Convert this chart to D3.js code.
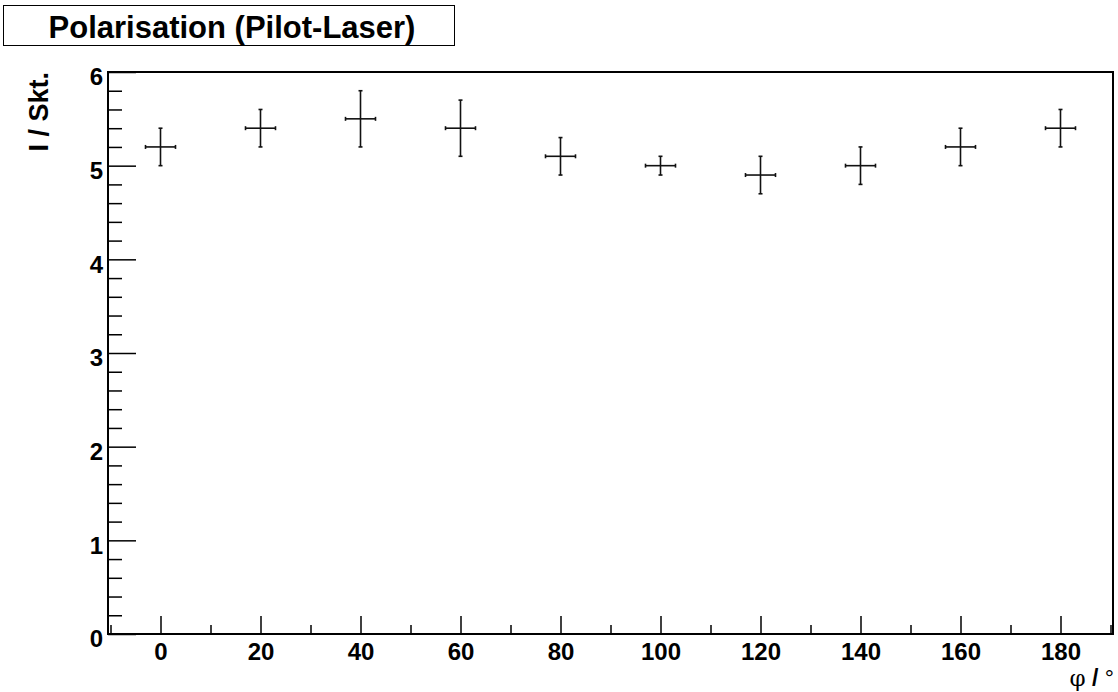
<!DOCTYPE html>
<html>
<head>
<meta charset="utf-8">
<script src="https://cdn.jsdelivr.net/npm/d3@7/dist/d3.min.js"></script>
<style>
  body { margin: 0; background: #fff; }
  text { font-family: "Liberation Sans", Arial, Helvetica, sans-serif; font-weight: bold; fill: #000; }
</style>
</head>
<body>
<svg id="chart" width="1118" height="692"></svg>
<script>
// measured polarisation data
const angles = [0, 20, 40, 60, 80, 100, 120, 140, 160, 180];
const intensity = [5.2, 5.4, 5.5, 5.4, 5.1, 5.0, 4.9, 5.0, 5.2, 5.4];
const intensityErr = [0.2, 0.2, 0.3, 0.3, 0.2, 0.1, 0.2, 0.2, 0.2, 0.2];
const angleErr = [3, 3, 3, 3, 3, 3, 3, 3, 3, 3];
const xTicks = [0, 20, 40, 60, 80, 100, 120, 140, 160, 180];
const yTicks = [0, 1, 2, 3, 4, 5, 6];

const margin = {top: 72, right: 5, bottom: 58, left: 108};
const W = 1118, H = 692;
const width = W - margin.left - margin.right;
const height = H - margin.top - margin.bottom;

const svg = d3.select('#chart');
const chart = svg.append('g')
    .attr('transform', `translate(${margin.left},${margin.top})`);

const x = d3.scaleLinear().domain([-10.5, 190.5]).range([0, width]);
const y = d3.scaleLinear().domain([0, 6]).range([height, 0]);

// minor ticks
const xMinor = d3.range(-10, 191, 10).filter(v => v % 20 !== 0);
const yMinor = d3.range(0, 6.001, 0.2).map(v => +v.toFixed(1)).filter(v => Math.abs(v - Math.round(v)) > 1e-6);

const xAxisMinor = d3.axisBottom(x).tickValues(xMinor).tickSize(-9).tickFormat('');
const xAxis = d3.axisBottom(x).tickValues(xTicks).tickSize(-18).tickPadding(9).tickFormat(d3.format('d'));
const yAxisMinor = d3.axisLeft(y).tickValues(yMinor).tickSize(-14).tickFormat('');
const yAxis = d3.axisLeft(y).tickValues(yTicks).tickSize(-28).tickPadding(5).tickFormat(d3.format('d'));

function styleAxis(g) {
  g.select('.domain').remove();
  g.selectAll('.tick line').attr('stroke', '#000').attr('stroke-width', 1.5);
  g.selectAll('.tick text').style('font-size', '24px').style('font-weight', 'bold')
    .style('font-family', '"Liberation Sans", Arial, sans-serif').attr('fill', '#000');
}

chart.append('g').attr('transform', `translate(0,${height})`).call(xAxisMinor).call(styleAxis);
chart.append('g').attr('transform', `translate(0,${height})`).call(xAxis).call(styleAxis)
    .selectAll('.tick text').attr('dy', '0.71em');
chart.append('g').call(yAxisMinor).call(styleAxis);
chart.append('g').call(yAxis).call(styleAxis)
    .selectAll('.tick text').attr('dy', '0.53em');

// frame
chart.append('rect')
    .attr('x', 0).attr('y', 0)
    .attr('width', width).attr('height', height)
    .attr('fill', 'none').attr('stroke', '#000').attr('stroke-width', 2);

// error crosses
const pts = angles.map((a, i) => ({x: a, y: intensity[i], ex: angleErr[i], ey: intensityErr[i]}));
const cap = 2;
const g = chart.selectAll('.pt').data(pts).enter().append('g').attr('class', 'pt')
    .attr('stroke', '#111').attr('stroke-width', 1.6);
g.append('line')
    .attr('x1', d => x(d.x - d.ex)).attr('x2', d => x(d.x + d.ex))
    .attr('y1', d => y(d.y)).attr('y2', d => y(d.y));
g.append('line')
    .attr('x1', d => x(d.x)).attr('x2', d => x(d.x))
    .attr('y1', d => y(d.y - d.ey)).attr('y2', d => y(d.y + d.ey));
// end caps
g.append('line')
    .attr('x1', d => x(d.x - d.ex)).attr('x2', d => x(d.x - d.ex))
    .attr('y1', d => y(d.y) - cap).attr('y2', d => y(d.y) + cap);
g.append('line')
    .attr('x1', d => x(d.x + d.ex)).attr('x2', d => x(d.x + d.ex))
    .attr('y1', d => y(d.y) - cap).attr('y2', d => y(d.y) + cap);
g.append('line')
    .attr('x1', d => x(d.x) - cap).attr('x2', d => x(d.x) + cap)
    .attr('y1', d => y(d.y + d.ey)).attr('y2', d => y(d.y + d.ey));
g.append('line')
    .attr('x1', d => x(d.x) - cap).attr('x2', d => x(d.x) + cap)
    .attr('y1', d => y(d.y - d.ey)).attr('y2', d => y(d.y - d.ey));

// axis titles
svg.append('text')
    .attr('transform', `translate(48,${margin.top}) rotate(-90)`)
    .attr('text-anchor', 'end')
    .style('font-size', '27px')
    .text('I / Skt.');

const xt = svg.append('text')
    .attr('x', 1114).attr('y', 686)
    .attr('text-anchor', 'end')
    .style('font-size', '23px');
xt.append('tspan').style('font-family', '"DejaVu Serif", "Liberation Serif", serif').style('font-weight', 'normal').text('φ');
xt.append('tspan').text(' / ');
xt.append('tspan').style('font-weight', 'normal').text('°');

// title box
svg.append('rect')
    .attr('x', 3.5).attr('y', 5.5).attr('width', 451).attr('height', 40)
    .attr('fill', '#fff').attr('stroke', '#000').attr('stroke-width', 1);
svg.append('text')
    .attr('x', 232).attr('y', 38)
    .attr('text-anchor', 'middle')
    .style('font-size', '31px')
    .text('Polarisation (Pilot-Laser)');
</script>
</body>
</html>
